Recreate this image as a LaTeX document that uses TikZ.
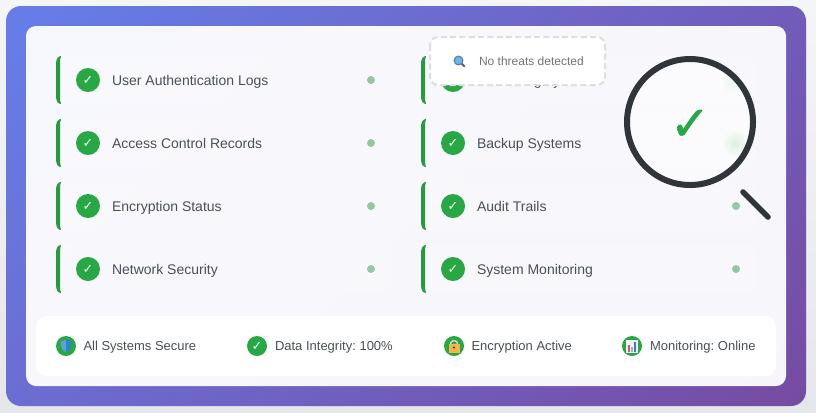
\documentclass[tikz,border=0pt]{standalone}
\usepackage{fontspec}
\setmainfont{Liberation Sans}
\newfontfamily\symfont{DejaVu Sans}
\newfontfamily\symbold[FakeBold=1.2]{DejaVu Sans}
\definecolor{pagetop}{HTML}{F4F5F7}
\definecolor{pagebot}{HTML}{E5E7EA}
\definecolor{gradA}{HTML}{667EEA}
\definecolor{gradB}{HTML}{764BA2}
\definecolor{okgreen}{HTML}{28A745}
\definecolor{darktext}{HTML}{495057}
\definecolor{lensdark}{HTML}{30353A}
\definecolor{dotgreen}{HTML}{93C9A0}
\definecolor{emojiglass}{HTML}{6FB4E6}
\definecolor{emojiring}{HTML}{4F7FB0}
\definecolor{emojigrip}{HTML}{7A4A9A}
\definecolor{shieldA}{HTML}{5AA0DC}
\definecolor{shieldB}{HTML}{2E86C8}
\definecolor{lockgold}{HTML}{F0B84A}
\definecolor{barpink}{HTML}{D9507A}
\definecolor{bargreen}{HTML}{8CBF9A}
\definecolor{barblue}{HTML}{3D78D0}
\frenchspacing
\tikzset{
  x=0.75pt,y=-0.75pt,
  every node/.style={inner sep=0pt,outer sep=0pt},
  rowlabel/.style={anchor=base west,text=darktext,font=\fontsize{10.5pt}{12pt}\selectfont},
  statlabel/.style={anchor=base west,text=darktext,font=\fontsize{9.75pt}{12pt}\selectfont},
  tickdisc/.style={circle,fill=okgreen,minimum size=18pt},
  statdisc/.style={circle,fill=okgreen,minimum size=15pt},
  ticksign/.style={text=white,font=\symfont\fontsize{9.5pt}{10pt}\selectfont},
  rowdot/.style={circle,fill=dotgreen,minimum size=6pt},
  rowcard/.style={fill=white,fill opacity=.2,rounded corners=6pt},
  greenbar/.style={fill=okgreen!92!black},
}
\newcommand{\rowitem}[4]{% x offset, y centre, name, text
  \path[rowcard] (#1,#2-24) rectangle (#1+335,#2+24);
  \fill[greenbar] (#1+5,#2-24) .. controls (#1+2,#2-24) and (#1,#2-21) .. (#1,#2-16) -- (#1,#2+16)
     .. controls (#1,#2+21) and (#1+2,#2+24) .. (#1+5,#2+24)
     .. controls (#1+4,#2+22) and (#1+4,#2+19) .. (#1+4,#2+16) -- (#1+4,#2-16)
     .. controls (#1+4,#2-19) and (#1+4,#2-22) .. (#1+5,#2-24) -- cycle;
  \node[tickdisc] (#3disc) at (#1+32,#2) {};
  \node[ticksign] (#3tick) at (#1+32,#2+0.5) {✓};
  \node[rowlabel] (#3label) at (#1+56,#2+5) {#4};
}
\begin{document}
\begin{tikzpicture}
\useasboundingbox (0,0) rectangle (816,412);
\shade[top color=pagetop,bottom color=pagebot] (0,0) rectangle (816,412);
% outer gradient card
\begin{scope}
  \clip[rounded corners=11.25pt] (6,6) rectangle (806,406);
  \begin{scope}[transform canvas={rotate around={-45:(406,206)}}]
    \shade[left color=gradA,right color=gradB] (406-424.3,206-500) rectangle (406+424.3,206+500);
  \end{scope}
\end{scope}
% inner panel
\fill[white,fill opacity=.95,rounded corners=7.5pt] (26,26) rectangle (786,386);
% rows
\rowitem{56}{80}{a}{User Authentication Logs}
\rowitem{56}{143}{b}{Access Control Records}
\rowitem{56}{206}{c}{Encryption Status}
\rowitem{56}{269}{d}{Network Security}
\rowitem{421}{80}{e}{Data Integrity}
\rowitem{421}{143}{f}{Backup Systems}
\rowitem{421}{206}{g}{Audit Trails}
\rowitem{421}{269}{h}{System Monitoring}
\node[rowdot] (da) at (371,80) {};
\node[rowdot] (db) at (371,143) {};
\node[rowdot] (dc) at (371,206) {};
\node[rowdot] (dd) at (371,269) {};
\node[rowdot] (dg) at (736,206) {};
\node[rowdot] (dh) at (736,269) {};
% lens
\begin{scope}
  \clip (690,122) circle (63);
  \fill[white,fill opacity=.45] (690,122) circle (63);
  \shade[inner color=okgreen!28,outer color=white,opacity=.5] (735,143) circle (15);
  \shade[inner color=okgreen!14,outer color=white,opacity=.5] (733,82) circle (14);
\end{scope}
\node[text=okgreen,font=\symbold\fontsize{36pt}{40pt}\selectfont] (lenscheck) at (690,125) {✓};
\node[circle,draw=lensdark,line width=4.5pt,minimum size=94.5pt] (lens) at (690,122) {};
\coordinate (ha) at (743,192);
\coordinate (hb) at (768,217);
\draw[lensdark,line width=4.2pt,line cap=round] (ha) -- (hb);
% tooltip
\fill[white,rounded corners=6pt] (430,37) rectangle (605,85);
\draw[draw=black!13,line width=1.5pt,dash pattern=on 4.5pt off 2.5pt,rounded corners=6pt] (430,37) rectangle (605,85);
\node[anchor=base west,text=black!55,font=\fontsize{9pt}{11pt}\selectfont] (tip) at (479,65) {No threats detected};
% emoji magnifier
\draw[emojigrip,line width=1.5pt,line cap=round] (461.5,63.5) -- (464.5,66.5);
\draw[fill=emojiglass,draw=emojiring,line width=0.8pt] (458.5,60.5) circle (4.4);
% bottom panel
\fill[white,rounded corners=7.5pt] (36,316) rectangle (776,376);
\node[statdisc] (s1) at (66,346) {};
\fill[shieldA] (66,339.5) -- (60.5,341.5) .. controls (60.5,347) and (62.5,350.5) .. (66,352.5) -- cycle;
\fill[shieldB] (66,339.5) -- (71.5,341.5) .. controls (71.5,347) and (69.5,350.5) .. (66,352.5) -- cycle;
\node[statlabel] (t1) at (83.5,350) {All Systems Secure};
\node[statdisc] (s2) at (257,346) {};
\node[ticksign] (s2tick) at (257,346.5) {✓};
\node[statlabel] (t2) at (275,350) {Data Integrity: 100\%};
\node[statdisc] (s3) at (454,346) {};
\draw[gray!35,line width=1.1pt] (450.5,344) arc (180:360:3.5);
\fill[lockgold] (448.5,344) rectangle (459.5,352.5);
\fill[red!60!black] (454,347.5) circle (1.1);
\node[statlabel] (t3) at (471.5,350) {Encryption Active};
\node[statdisc] (s4) at (632,346) {};
\fill[black!6] (626,339.5) rectangle (638,352.5);
\fill[barpink] (628,345) rectangle (630,351.5);
\fill[bargreen] (631,347) rectangle (633,351.5);
\fill[barblue] (634,341.5) rectangle (636.3,351.5);
\node[statlabel] (t4) at (650,350) {Monitoring: Online};
\end{tikzpicture}
\end{document}
